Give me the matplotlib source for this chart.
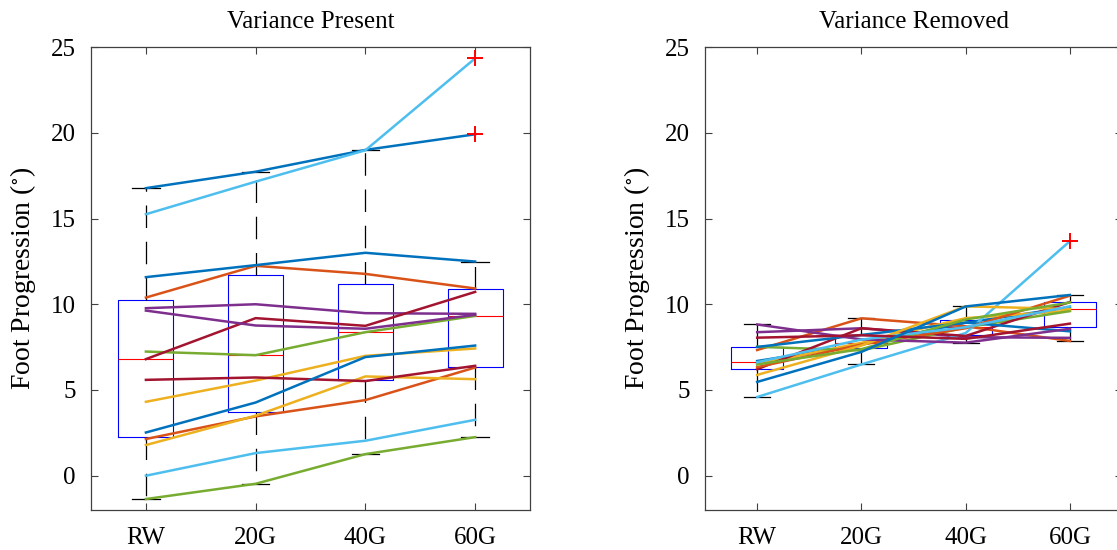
import numpy as np
import matplotlib
matplotlib.use('Agg')
import matplotlib.pyplot as plt

plt.rcParams['font.family'] = ['Liberation Serif', 'DejaVu Serif']
plt.rcParams['mathtext.fontset'] = 'stix'
plt.rcParams['font.size'] = 17

# Conditions on the x axis
conditions = ['RW', '20G', '40G', '60G']

# One value per subject (15 subjects), same subject order in every list
present_rw = [16.77, 10.39, 4.31, 9.77, 7.24, 15.25, 6.80, 11.58, 2.14, 1.79, 9.63, -1.36, 0.00, 5.59, 2.52]
present_20g = [17.73, 12.24, 5.55, 10.00, 7.03, 17.15, 9.19, 12.28, 3.46, 3.50, 8.76, -0.47, 1.32, 5.73, 4.27]
present_40g = [19.00, 11.77, 6.99, 9.48, 8.37, 18.98, 8.74, 13.00, 4.41, 5.79, 8.57, 1.26, 2.04, 5.52, 6.92]
present_60g = [19.91, 10.92, 7.42, 9.44, 9.32, 24.34, 10.72, 12.49, 6.31, 5.63, 9.38, 2.25, 3.26, 6.41, 7.59]

removed_rw = [6.69, 7.33, 6.51, 8.37, 7.52, 4.59, 6.21, 7.51, 6.33, 5.88, 8.82, 6.49, 6.62, 8.05, 5.47]
removed_20g = [7.65, 9.18, 7.75, 8.60, 7.31, 6.49, 8.60, 8.21, 7.65, 7.59, 7.95, 7.38, 7.94, 8.19, 7.22]
removed_40g = [8.92, 8.71, 9.19, 8.08, 8.65, 8.32, 8.15, 8.93, 8.60, 9.88, 7.76, 9.11, 8.66, 7.98, 9.87]
removed_60g = [9.83, 7.86, 9.62, 8.04, 9.60, 13.68, 10.13, 8.42, 10.50, 9.72, 8.57, 10.10, 9.88, 8.87, 10.54]

# MATLAB default line colour order
line_colors = ['#0072BD', '#D95319', '#EDB120', '#7E2F8E', '#77AC30', '#4DBEEE', '#A2142F']


def box_stats(values):
    # MATLAB-style boxplot statistics (prctile uses the hazen definition)
    v = np.asarray(values)
    q1, med, q3 = np.percentile(v, [25, 50, 75], method='hazen')
    iqr = q3 - q1
    inside = v[(v >= q1 - 1.5 * iqr) & (v <= q3 + 1.5 * iqr)]
    return {
        'med': med, 'q1': q1, 'q3': q3,
        'whislo': inside.min(), 'whishi': inside.max(),
        'fliers': v[(v < q1 - 1.5 * iqr) | (v > q3 + 1.5 * iqr)],
    }


def draw_panel(ax, columns, title):
    positions = np.arange(1, len(columns) + 1)
    stats = [box_stats(c) for c in columns]
    ax.bxp(stats, positions=positions, widths=0.5, capwidths=0.25,
           boxprops=dict(color='#0000FF', linewidth=0.8),
           medianprops=dict(color='#FF0000', linewidth=0.8),
           whiskerprops=dict(color='black', linewidth=0.9, linestyle=(0, (18, 11))),
           capprops=dict(color='black', linewidth=0.9),
           flierprops=dict(marker='+', markeredgecolor='#FF0000', markersize=11,
                           markeredgewidth=1.4, zorder=5),
           zorder=1)

    # Subject lines drawn over the boxes
    data = np.array(columns).T
    for i, row in enumerate(data):
        ax.plot(positions, row, color=line_colors[i % len(line_colors)],
                linewidth=1.8, zorder=3)

    ax.set_xlim(0.5, 4.5)
    ax.set_ylim(-2, 25)
    ax.set_yticks([0, 5, 10, 15, 20, 25])
    ax.set_xticks(positions)
    ax.set_xticklabels(conditions)
    ax.set_title(title, fontsize=18, pad=14)
    ax.set_ylabel(r'Foot Progression ($^{\circ}$)', fontsize=20, labelpad=9)
    ax.tick_params(direction='in', top=True, right=True, length=5, width=0.8,
                   color='#404040', labelsize=18)
    ax.tick_params(axis='x', pad=12)
    ax.tick_params(axis='y', pad=11)
    for s in ax.spines.values():
        s.set_color('#404040')
        s.set_linewidth(0.9)
    ax.grid(False)


fig = plt.figure(figsize=(11.17, 5.5), dpi=100)
ax1 = fig.add_axes([0.0815, 0.0727, 0.3930, 0.8418])
ax2 = fig.add_axes([0.6312, 0.0727, 0.3733, 0.8418])

draw_panel(ax1, [present_rw, present_20g, present_40g, present_60g], 'Variance Present')
draw_panel(ax2, [removed_rw, removed_20g, removed_40g, removed_60g], 'Variance Removed')

fig.savefig('out.png', dpi=100)
plt.close('all')
